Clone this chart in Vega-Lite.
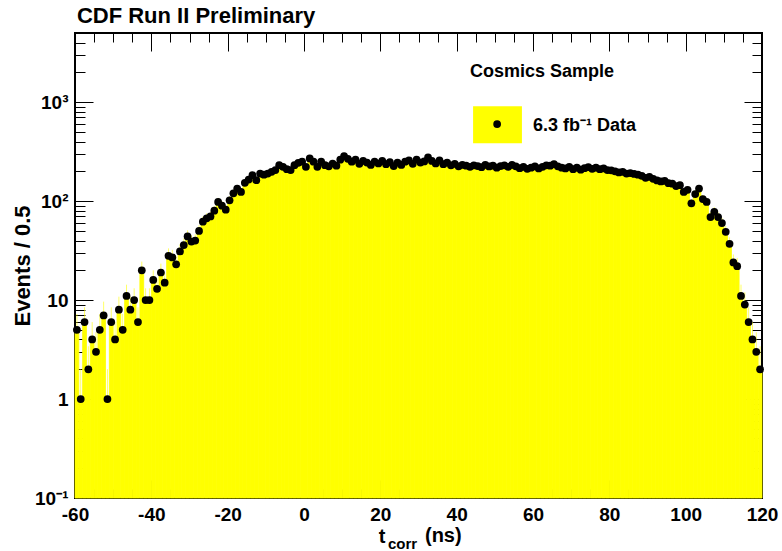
{
  "$schema": "https://vega.github.io/schema/vega-lite/v6.json",
  "width": 687,
  "height": 465,
  "autosize": "none",
  "padding": {"left": 75, "top": 33, "right": 20, "bottom": 53},
  "background": "white",
  "config": {
    "view": {"stroke": "black", "strokeWidth": 2},
    "axis": {
      "domain": false,
      "grid": false,
      "tickColor": "black",
      "tickWidth": 1,
      "labelFont": "Liberation Sans",
      "labelFontSize": 19,
      "labelFontWeight": "bold",
      "labelColor": "black",
      "labelFlush": false,
      "labelOverlap": false,
      "labelBound": false,
      "titleFont": "Liberation Sans",
      "titleFontSize": 22,
      "titleFontWeight": "bold",
      "titleColor": "black"
    },
    "text": {"font": "Liberation Sans", "fontWeight": "bold", "color": "black"}
  },
  "datasets": {
    "bins": [
      {"t": -59.5, "n": 5}, {"t": -58.5, "n": 1}, {"t": -57.5, "n": 6}, {"t": -56.5, "n": 2},
      {"t": -55.5, "n": 4}, {"t": -54.5, "n": 3}, {"t": -53.5, "n": 5}, {"t": -52.5, "n": 7},
      {"t": -51.5, "n": 1}, {"t": -50.5, "n": 6}, {"t": -49.5, "n": 4}, {"t": -48.5, "n": 8},
      {"t": -47.5, "n": 5}, {"t": -46.5, "n": 11}, {"t": -45.5, "n": 8}, {"t": -44.5, "n": 10},
      {"t": -43.5, "n": 6}, {"t": -42.5, "n": 20}, {"t": -41.5, "n": 10}, {"t": -40.5, "n": 10},
      {"t": -39.5, "n": 16}, {"t": -38.5, "n": 13}, {"t": -37.5, "n": 19}, {"t": -36.5, "n": 15},
      {"t": -35.5, "n": 28}, {"t": -34.5, "n": 27}, {"t": -33.5, "n": 23}, {"t": -32.5, "n": 31},
      {"t": -31.5, "n": 36}, {"t": -30.5, "n": 44}, {"t": -29.5, "n": 39}, {"t": -28.5, "n": 40},
      {"t": -27.5, "n": 50}, {"t": -26.5, "n": 62}, {"t": -25.5, "n": 67}, {"t": -24.5, "n": 70},
      {"t": -23.5, "n": 80}, {"t": -22.5, "n": 98}, {"t": -21.5, "n": 90}, {"t": -20.5, "n": 82},
      {"t": -19.5, "n": 102}, {"t": -18.5, "n": 120}, {"t": -17.5, "n": 134}, {"t": -16.5, "n": 124},
      {"t": -15.5, "n": 153}, {"t": -14.5, "n": 165}, {"t": -13.5, "n": 183}, {"t": -12.5, "n": 163},
      {"t": -11.5, "n": 190}, {"t": -10.5, "n": 185}, {"t": -9.5, "n": 190}, {"t": -8.5, "n": 198},
      {"t": -7.5, "n": 206}, {"t": -6.5, "n": 231}, {"t": -5.5, "n": 222}, {"t": -4.5, "n": 210},
      {"t": -3.5, "n": 206}, {"t": -2.5, "n": 231}, {"t": -1.5, "n": 244}, {"t": -0.5, "n": 250},
      {"t": 0.5, "n": 222}, {"t": 1.5, "n": 270}, {"t": 2.5, "n": 250}, {"t": 3.5, "n": 222},
      {"t": 4.5, "n": 250}, {"t": 5.5, "n": 231}, {"t": 6.5, "n": 225}, {"t": 7.5, "n": 240},
      {"t": 8.5, "n": 228}, {"t": 9.5, "n": 262}, {"t": 10.5, "n": 285}, {"t": 11.5, "n": 268},
      {"t": 12.5, "n": 250}, {"t": 13.5, "n": 262}, {"t": 14.5, "n": 238}, {"t": 15.5, "n": 255},
      {"t": 16.5, "n": 245}, {"t": 17.5, "n": 232}, {"t": 18.5, "n": 250}, {"t": 19.5, "n": 240},
      {"t": 20.5, "n": 255}, {"t": 21.5, "n": 236}, {"t": 22.5, "n": 248}, {"t": 23.5, "n": 226},
      {"t": 24.5, "n": 245}, {"t": 25.5, "n": 232}, {"t": 26.5, "n": 250}, {"t": 27.5, "n": 258},
      {"t": 28.5, "n": 238}, {"t": 29.5, "n": 262}, {"t": 30.5, "n": 245}, {"t": 31.5, "n": 252},
      {"t": 32.5, "n": 276}, {"t": 33.5, "n": 255}, {"t": 34.5, "n": 240}, {"t": 35.5, "n": 258},
      {"t": 36.5, "n": 236}, {"t": 37.5, "n": 245}, {"t": 38.5, "n": 230}, {"t": 39.5, "n": 238},
      {"t": 40.5, "n": 225}, {"t": 41.5, "n": 232}, {"t": 42.5, "n": 228}, {"t": 43.5, "n": 222},
      {"t": 44.5, "n": 230}, {"t": 45.5, "n": 226}, {"t": 46.5, "n": 220}, {"t": 47.5, "n": 232},
      {"t": 48.5, "n": 224}, {"t": 49.5, "n": 228}, {"t": 50.5, "n": 218}, {"t": 51.5, "n": 226},
      {"t": 52.5, "n": 230}, {"t": 53.5, "n": 222}, {"t": 54.5, "n": 232}, {"t": 55.5, "n": 225},
      {"t": 56.5, "n": 215}, {"t": 57.5, "n": 222}, {"t": 58.5, "n": 212}, {"t": 59.5, "n": 218},
      {"t": 60.5, "n": 225}, {"t": 61.5, "n": 214}, {"t": 62.5, "n": 222}, {"t": 63.5, "n": 230},
      {"t": 64.5, "n": 228}, {"t": 65.5, "n": 236}, {"t": 66.5, "n": 225}, {"t": 67.5, "n": 218},
      {"t": 68.5, "n": 214}, {"t": 69.5, "n": 222}, {"t": 70.5, "n": 210}, {"t": 71.5, "n": 218},
      {"t": 72.5, "n": 208}, {"t": 73.5, "n": 215}, {"t": 74.5, "n": 220}, {"t": 75.5, "n": 212},
      {"t": 76.5, "n": 218}, {"t": 77.5, "n": 210}, {"t": 78.5, "n": 214}, {"t": 79.5, "n": 206},
      {"t": 80.5, "n": 205}, {"t": 81.5, "n": 200}, {"t": 82.5, "n": 195}, {"t": 83.5, "n": 198},
      {"t": 84.5, "n": 190}, {"t": 85.5, "n": 192}, {"t": 86.5, "n": 188}, {"t": 87.5, "n": 185},
      {"t": 88.5, "n": 180}, {"t": 89.5, "n": 172}, {"t": 90.5, "n": 176}, {"t": 91.5, "n": 168},
      {"t": 92.5, "n": 162}, {"t": 93.5, "n": 158}, {"t": 94.5, "n": 160}, {"t": 95.5, "n": 152},
      {"t": 96.5, "n": 150}, {"t": 97.5, "n": 142}, {"t": 98.5, "n": 145}, {"t": 99.5, "n": 124},
      {"t": 100.5, "n": 130}, {"t": 101.5, "n": 95}, {"t": 102.5, "n": 118}, {"t": 103.5, "n": 134},
      {"t": 104.5, "n": 105}, {"t": 105.5, "n": 98}, {"t": 106.5, "n": 69}, {"t": 107.5, "n": 78},
      {"t": 108.5, "n": 69}, {"t": 109.5, "n": 60}, {"t": 110.5, "n": 49}, {"t": 111.5, "n": 37},
      {"t": 112.5, "n": 24}, {"t": 113.5, "n": 22}, {"t": 114.5, "n": 11}, {"t": 115.5, "n": 9},
      {"t": 116.5, "n": 6}, {"t": 117.5, "n": 4}, {"t": 118.5, "n": 3}, {"t": 119.5, "n": 2}
    ]
  },
  "layer": [
    {
      "data": {"name": "bins"},
      "transform": [
        {"calculate": "datum.t - 0.5", "as": "lo"},
        {"calculate": "datum.t + 0.5", "as": "hi"}
      ],
      "mark": {"type": "rect", "color": "#ffff00", "stroke": "#ffff00", "strokeWidth": 0.8},
      "encoding": {
        "x": {
          "field": "lo",
          "type": "quantitative",
          "scale": {"domain": [-60, 120], "nice": false, "zero": false},
          "axis": {
            "orient": "bottom",
            "title": null,
            "values": [-60, -55, -50, -45, -40, -35, -30, -25, -20, -15, -10, -5, 0, 5, 10, 15, 20, 25, 30, 35, 40, 45, 50, 55, 60, 65, 70, 75, 80, 85, 90, 95, 100, 105, 110, 115, 120],
            "labelExpr": "datum.value % 20 == 0 ? '' + datum.value : ''",
            "tickSize": {"expr": "datum.value % 20 == 0 ? -18 : -9"},
            "labelPadding": 25
          }
        },
        "x2": {"field": "hi"},
        "y": {
          "field": "n",
          "type": "quantitative",
          "scale": {"type": "log", "domain": [0.1, 5000], "nice": false},
          "axis": {
            "orient": "left",
            "title": "Events / 0.5",
            "titleAngle": -90,
            "titleX": -53,
            "titleY": 232.5,
            "titleAlign": "center",
            "titleBaseline": "middle",
            "values": [0.1, 0.2, 0.3, 0.4, 0.5, 0.6, 0.7, 0.8, 0.9, 1, 2, 3, 4, 5, 6, 7, 8, 9, 10, 20, 30, 40, 50, 60, 70, 80, 90, 100, 200, 300, 400, 500, 600, 700, 800, 900, 1000, 2000, 3000, 4000, 5000],
            "labelExpr": "datum.value == 1000 ? '10³' : datum.value == 100 ? '10²' : datum.value == 10 ? '10' : datum.value == 1 ? '1' : datum.value == 0.1 ? '10⁻¹' : ''",
            "tickSize": {"expr": "indexof([0.1, 1, 10, 100, 1000], datum.value) >= 0 ? -18 : -10"},
            "labelPadding": 25
          }
        },
        "y2": {"datum": 0.1}
      }
    },
    {
      "data": {"name": "bins"},
      "transform": [
        {"calculate": "max(datum.n - sqrt(datum.n), 0.1)", "as": "elo"},
        {"calculate": "datum.n + sqrt(datum.n)", "as": "ehi"}
      ],
      "mark": {"type": "rule", "color": "#ffff00", "opacity": 0.6, "strokeWidth": 1},
      "encoding": {
        "x": {"field": "t", "type": "quantitative", "axis": null},
        "y": {"field": "elo", "type": "quantitative", "axis": null},
        "y2": {"field": "ehi"}
      }
    },
    {
      "data": {"name": "bins"},
      "mark": {"type": "point", "filled": true, "shape": "circle", "color": "black", "size": 60, "opacity": 1},
      "encoding": {
        "x": {"field": "t", "type": "quantitative", "axis": null},
        "y": {"field": "n", "type": "quantitative", "axis": null}
      }
    },
    {
      "data": {"values": [{}]},
      "mark": {"type": "rect", "color": "#ffff00"},
      "encoding": {
        "x": {
          "datum": 44.3,
          "type": "quantitative",
          "axis": {
            "orient": "top",
            "title": null,
            "labels": false,
            "values": [-60, -55, -50, -45, -40, -35, -30, -25, -20, -15, -10, -5, 0, 5, 10, 15, 20, 25, 30, 35, 40, 45, 50, 55, 60, 65, 70, 75, 80, 85, 90, 95, 100, 105, 110, 115, 120],
            "tickSize": {"expr": "datum.value % 20 == 0 ? -18 : -9"}
          }
        },
        "x2": {"datum": 57.1},
        "y": {
          "datum": 912,
          "type": "quantitative",
          "axis": {
            "orient": "right",
            "title": null,
            "labels": false,
            "values": [0.1, 0.2, 0.3, 0.4, 0.5, 0.6, 0.7, 0.8, 0.9, 1, 2, 3, 4, 5, 6, 7, 8, 9, 10, 20, 30, 40, 50, 60, 70, 80, 90, 100, 200, 300, 400, 500, 600, 700, 800, 900, 1000, 2000, 3000, 4000, 5000],
            "tickSize": {"expr": "indexof([0.1, 1, 10, 100, 1000], datum.value) >= 0 ? -18 : -10"}
          }
        },
        "y2": {"datum": 385}
      }
    },
    {
      "data": {"values": [{}]},
      "mark": {"type": "point", "filled": true, "shape": "circle", "color": "black", "size": 60, "opacity": 1},
      "encoding": {
        "x": {"datum": 50.6, "type": "quantitative", "axis": null},
        "y": {"datum": 600, "type": "quantitative", "axis": null}
      }
    },
    {
      "data": {"values": [{}]},
      "mark": {"type": "text", "align": "left", "baseline": "middle", "fontSize": 18},
      "encoding": {
        "x": {"datum": 43.5, "type": "quantitative", "axis": null},
        "y": {"datum": 2010, "type": "quantitative", "axis": null},
        "text": {"value": "Cosmics Sample"}
      }
    },
    {
      "data": {"values": [{}]},
      "mark": {"type": "text", "align": "left", "baseline": "middle", "fontSize": 18},
      "encoding": {
        "x": {"datum": 60.0, "type": "quantitative", "axis": null},
        "y": {"datum": 573, "type": "quantitative", "axis": null},
        "text": {"value": "6.3 fb⁻¹ Data"}
      }
    },
    {
      "data": {"values": [{}]},
      "mark": {"type": "text", "align": "left", "baseline": "alphabetic", "fontSize": 22, "dy": -10},
      "encoding": {
        "x": {"datum": -59.5, "type": "quantitative", "axis": null},
        "y": {"datum": 5000, "type": "quantitative", "axis": null},
        "text": {"value": "CDF Run II Preliminary"}
      }
    },
    {
      "data": {"values": [{}]},
      "mark": {"type": "text", "align": "left", "baseline": "alphabetic", "fontSize": 20, "dy": 45},
      "encoding": {
        "x": {"datum": 19.6, "type": "quantitative", "axis": null},
        "y": {"datum": 0.1, "type": "quantitative", "axis": null},
        "text": {"value": "t"}
      }
    },
    {
      "data": {"values": [{}]},
      "mark": {"type": "text", "align": "left", "baseline": "alphabetic", "fontSize": 15, "dy": 51},
      "encoding": {
        "x": {"datum": 22.0, "type": "quantitative", "axis": null},
        "y": {"datum": 0.1, "type": "quantitative", "axis": null},
        "text": {"value": "corr"}
      }
    },
    {
      "data": {"values": [{}]},
      "mark": {"type": "text", "align": "left", "baseline": "alphabetic", "fontSize": 20, "dy": 44},
      "encoding": {
        "x": {"datum": 31.7, "type": "quantitative", "axis": null},
        "y": {"datum": 0.1, "type": "quantitative", "axis": null},
        "text": {"value": "(ns)"}
      }
    }
  ],
  "resolve": {"axis": {"x": "independent", "y": "independent"}}
}
